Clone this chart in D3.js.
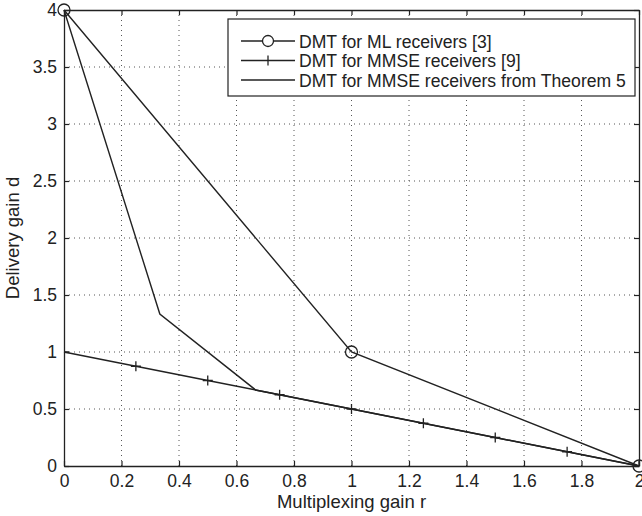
<!DOCTYPE html>
<html>
<head>
<meta charset="utf-8">
<script src="https://cdn.jsdelivr.net/npm/d3@7"></script>
<style>
  body { margin: 0; background: #fff; }
  svg text { font-family: "Liberation Sans", Arial, sans-serif; fill: #222; }
</style>
</head>
<body>
<div id="chart"></div>
<script>
// data
var mlR = [0, 1, 2];
var mlD = [4, 1, 0];

var mmseR = [0, 0.25, 0.5, 0.75, 1, 1.25, 1.5, 1.75, 2];
var mmseD = [1, 0.875, 0.75, 0.625, 0.5, 0.375, 0.25, 0.125, 0];

var thmR = [0, 1/3, 2/3, 1, 2];
var thmD = [4, 4/3, 2/3, 0.5, 0];

var xTicks = [0, 0.2, 0.4, 0.6, 0.8, 1, 1.2, 1.4, 1.6, 1.8, 2];
var yTicks = [0, 0.5, 1, 1.5, 2, 2.5, 3, 3.5, 4];

var legendLabels = ["DMT for ML receivers [3]", "DMT for MMSE receivers [9]", "DMT for MMSE receivers from Theorem 5"];

// chart config
var W = 642, H = 516;
var margin = {top: 10, right: 3, bottom: 50, left: 64};
var width = W - margin.left - margin.right,
    height = H - margin.top - margin.bottom;
var ink = "#222";

var xScale = d3.scaleLinear().domain([0, 2]).range([0, width]);
var yScale = d3.scaleLinear().domain([0, 4]).range([height, 0]);

var svg = d3.select("#chart").append("svg")
    .attr("width", W).attr("height", H);

var g = svg.append("g")
    .attr("transform", "translate(" + margin.left + "," + margin.top + ")");

svg.append("defs").append("clipPath").attr("id", "plotclip")
  .append("rect").attr("width", width).attr("height", height);

// grid
g.append("g").selectAll("line").data(xTicks.slice(1, -1)).enter().append("line")
    .attr("x1", function(d) { return xScale(d); })
    .attr("x2", function(d) { return xScale(d); })
    .attr("y1", 0).attr("y2", height)
    .style("stroke", "#555").style("stroke-width", 1).style("stroke-dasharray", "1,4");
g.append("g").selectAll("line").data(yTicks.slice(1, -1)).enter().append("line")
    .attr("y1", function(d) { return yScale(d); })
    .attr("y2", function(d) { return yScale(d); })
    .attr("x1", 0).attr("x2", width)
    .style("stroke", "#555").style("stroke-width", 1).style("stroke-dasharray", "1,4");

// axes (ticks inside, mirrored)
var fmt = function(d) { return String(d); };
var xAxis = g.append("g").attr("transform", "translate(0," + height + ")")
    .call(d3.axisBottom(xScale).tickValues(xTicks).tickFormat(fmt).tickSizeInner(-5).tickSizeOuter(0).tickPadding(9));
var xAxisTop = g.append("g")
    .call(d3.axisTop(xScale).tickValues(xTicks).tickFormat("").tickSizeInner(-5).tickSizeOuter(0));
var yAxis = g.append("g")
    .call(d3.axisLeft(yScale).tickValues(yTicks).tickFormat(fmt).tickSizeInner(-5).tickSizeOuter(0).tickPadding(7));
var yAxisRight = g.append("g").attr("transform", "translate(" + width + ",0)")
    .call(d3.axisRight(yScale).tickValues(yTicks).tickFormat("").tickSizeInner(-5).tickSizeOuter(0));

[xAxis, xAxisTop, yAxis, yAxisRight].forEach(function(a) {
  a.select(".domain").style("stroke", ink).style("stroke-width", 1.3);
  a.selectAll(".tick line").style("stroke", ink).style("stroke-width", 1.2);
  a.selectAll("text").style("font-size", "17.5px").style("fill", ink)
    .style("font-family", "'Liberation Sans', Arial, sans-serif");
});

// lines
var line = d3.line()
    .x(function(d) { return xScale(d[0]); })
    .y(function(d) { return yScale(d[1]); });

function pairs(rs, ds) { return rs.map(function(r, i) { return [r, ds[i]]; }); }

[pairs(thmR, thmD), pairs(mmseR, mmseD), pairs(mlR, mlD)].forEach(function(pts) {
  g.append("path").datum(pts).attr("d", line)
    .style("fill", "none").style("stroke", ink).style("stroke-width", 1.4);
});

// markers
g.append("g").attr("clip-path", "url(#plotclip)").selectAll("path")
    .data(pairs(mmseR, mmseD)).enter().append("path")
    .attr("d", function(d) {
      var x = xScale(d[0]), y = yScale(d[1]);
      return "M" + (x - 5) + "," + y + "H" + (x + 5) + "M" + x + "," + (y - 5) + "V" + (y + 5);
    })
    .style("stroke", ink).style("stroke-width", 1.3);

g.append("g").selectAll("circle")
    .data(pairs(mlR, mlD)).enter().append("circle")
    .attr("cx", function(d) { return xScale(d[0]); })
    .attr("cy", function(d) { return yScale(d[1]); })
    .attr("r", 6)
    .style("fill", "none").style("stroke", ink).style("stroke-width", 1.3);

// axis labels
svg.append("text")
    .attr("x", margin.left + width / 2).attr("y", 508)
    .attr("text-anchor", "middle").style("font-size", "18.5px")
    .text("Multiplexing gain r");
svg.append("text")
    .attr("transform", "translate(19," + (margin.top + height / 2) + ") rotate(-90)")
    .attr("text-anchor", "middle").style("font-size", "18.5px")
    .text("Delivery gain d");

// legend
var lg = svg.append("g").attr("transform", "translate(228,19)");
lg.append("rect").attr("width", 407).attr("height", 77)
    .style("fill", "#fff").style("stroke", ink).style("stroke-width", 1.2);
legendLabels.forEach(function(lab, i) {
  var y = 22 + i * 19.5;
  lg.append("line").attr("x1", 13).attr("x2", 67).attr("y1", y).attr("y2", y)
    .style("stroke", ink).style("stroke-width", 1.3);
  if (i === 0) {
    lg.append("circle").attr("cx", 40).attr("cy", y).attr("r", 5.5)
      .style("fill", "#fff").style("stroke", ink).style("stroke-width", 1.3);
  } else if (i === 1) {
    lg.append("line").attr("x1", 40).attr("x2", 40).attr("y1", y - 5).attr("y2", y + 5)
      .style("stroke", ink).style("stroke-width", 1.3);
  }
  lg.append("text").attr("x", 71).attr("y", y + 6.5)
    .style("font-size", "17.6px").text(lab);
});
</script>
</body>
</html>
